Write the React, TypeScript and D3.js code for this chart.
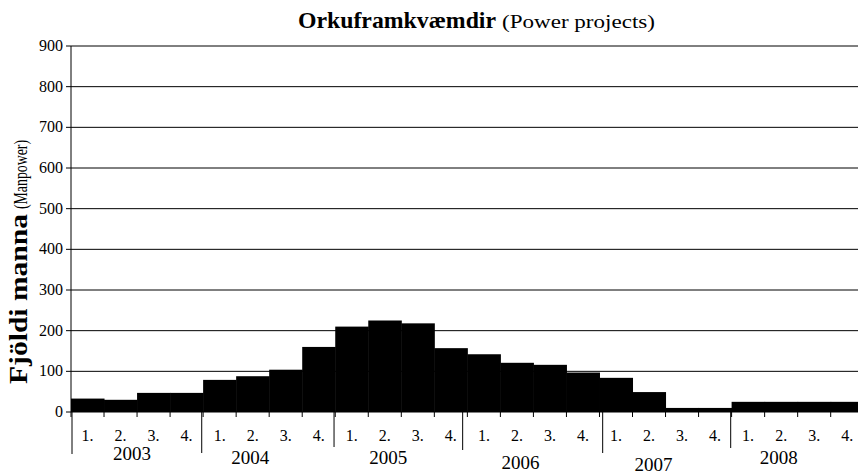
import React from "react";
import * as d3 from "d3";

const years = ["2003", "2004", "2005", "2006", "2007", "2008"];
const quarterLabels = ["1.", "2.", "3.", "4."];
const manpower = [
  33, 30, 47, 47,
  79, 88, 104, 160,
  210, 225, 218, 157,
  142, 121, 116, 97,
  84, 49, 10, 10,
  25, 25, 25, 25,
];
const yTicks = [0, 100, 200, 300, 400, 500, 600, 700, 800, 900];

// layout-only tweaks mimicking the staggered Excel category labels
const yearLabelDx = [-5, -19, -13, -13, -12, -19];
const yearLabelY = [460, 464, 464, 469, 471, 464];
const dividerDx = [1, -1.4, -1.2, -4.7, 3.2, -0.9];
const dividerEnd = [454, 453, 447, 450, 453, 448];

const W = 858;
const H = 474;
const left = 71;
const top = 46;
const bottom = 412;
const band = 33.03;
const right = left + band * manpower.length;

const FONT = "Liberation Serif, Times New Roman, serif";
const T = { fontFamily: FONT };

export default function App() {
  const keys = manpower.map((_, i) => i);
  const x = d3.scaleBand<number>().domain(keys).range([left, right]).padding(0);
  const y = d3.scaleLinear().domain([0, 900]).range([bottom, top]);

  return (
    <svg
      width={W}
      height={H}
      style={{ position: "absolute", left: 0, top: 0, display: "block", background: "#fff", fontFamily: FONT }}
    >
      {/* gridlines */}
      {yTicks.filter((t) => t > 0).map((t) => (
        <line key={"g" + t} x1={left} x2={W} y1={y(t)} y2={y(t)} stroke="#000" strokeWidth={1} />
      ))}
      {/* bars */}
      {manpower.map((v, i) => (
        <rect key={"b" + i} x={x(i)!} y={y(v)} width={x.bandwidth() + 0.5} height={bottom - y(v)} fill="#000" />
      ))}
      {/* y axis */}
      <line x1={left} x2={left} y1={top} y2={bottom} stroke="#000" />
      {yTicks.map((t) => (
        <g key={"yt" + t}>
          <line x1={left - 5} x2={left} y1={y(t)} y2={y(t)} stroke="#000" />
          <text x={63} y={y(t) + 5} textAnchor="end" fontSize={16} style={T}>
            {t}
          </text>
        </g>
      ))}
      {/* x axis */}
      <line x1={left} x2={W} y1={bottom} y2={bottom} stroke="#000" />
      {d3.range(manpower.length + 1).map((k) => {
        const xx = left + k * x.step();
        return <line key={"xt" + k} x1={xx} x2={xx} y1={bottom} y2={bottom + 5} stroke="#000" />;
      })}
      {manpower.map((_, i) => (
        <text key={"q" + i} x={x(i)! + x.bandwidth() / 2} y={441} textAnchor="middle" fontSize={16} style={T}>
          {quarterLabels[i % 4]}
        </text>
      ))}
      {years.map((yr, j) => {
        const x0 = x(j * 4)!;
        const cx = x0 + (x.step() * 4) / 2 + yearLabelDx[j];
        return (
          <g key={"yr" + yr}>
            <line x1={x0 + dividerDx[j]} x2={x0 + dividerDx[j]} y1={bottom} y2={dividerEnd[j]} stroke="#000" />
            <text x={cx} y={yearLabelY[j]} textAnchor="middle" fontSize={19} style={T}>
              {yr}
            </text>
          </g>
        );
      })}
      {/* title */}
      <text x={298} y={28} style={T} fontWeight="bold" fontSize={24} textLength={198} lengthAdjust="spacingAndGlyphs">
        Orkuframkvæmdir
      </text>
      <text x={502} y={28} style={T} fontSize={18} textLength={153} lengthAdjust="spacingAndGlyphs">
        (Power projects)
      </text>
      {/* y axis title */}
      <text
        transform="translate(27,384) rotate(-90)"
        style={T}
        fontWeight="bold"
        fontSize={25}
        textLength={170}
        lengthAdjust="spacingAndGlyphs"
      >
        Fjöldi manna
      </text>
      <text
        transform="translate(27,209) rotate(-90)"
        style={T}
        fontSize={18}
        textLength={69}
        lengthAdjust="spacingAndGlyphs"
      >
        (Manpower)
      </text>
    </svg>
  );
}
